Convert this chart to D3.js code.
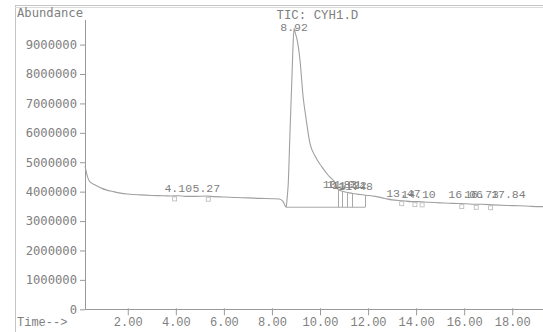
<!DOCTYPE html>
<html>
<head>
<meta charset="utf-8">
<script src="https://cdn.jsdelivr.net/npm/d3@7"></script>
<style>
  html, body { margin: 0; padding: 0; background: #fff; }
  svg { display: block; }
</style>
</head>
<body>
<svg id="chart" width="543" height="332"></svg>
<script>
// ---- data ----
const times = [0.22,0.26,0.30,0.35,0.40,0.50,0.60,0.75,0.90,1.10,1.40,1.70,2.00,2.50,3.00,3.50,3.80,4.10,4.40,4.80,5.27,5.60,6.00,6.50,7.00,7.50,8.00,8.30,8.45,8.52,8.59,8.63,8.68,8.75,8.82,8.87,8.92,8.97,9.05,9.17,9.30,9.40,9.58,9.80,10.07,10.35,10.62,10.75,10.90,11.10,11.30,11.50,11.90,12.30,12.70,13.00,13.47,13.80,14.10,14.50,15.00,15.50,16.06,16.40,16.73,17.20,17.84,18.30,18.80,19.28];
const abundance = [4870000,4720000,4580000,4450000,4360000,4290000,4240000,4180000,4120000,4060000,4000000,3950000,3920000,3890000,3870000,3860000,3850000,3860000,3840000,3840000,3850000,3830000,3820000,3800000,3790000,3770000,3760000,3750000,3680000,3570000,3470000,3750000,4300000,6000000,7600000,8800000,9550000,9400000,9150000,8450000,7200000,6600000,5650000,5200000,4850000,4550000,4300000,4080000,4020000,3980000,3950000,3920000,3880000,3840000,3770000,3720000,3690000,3660000,3660000,3640000,3620000,3600000,3590000,3570000,3570000,3550000,3530000,3520000,3500000,3490000];

const peakTimes = [4.10, 5.27, 8.92, 10.83, 11.01, 11.22, 11.48, 13.47, 14.10, 16.06, 16.73, 17.84];
const peakHeights = [3860000, 3850000, 9550000, 4000000, 3980000, 3960000, 3920000, 3690000, 3660000, 3590000, 3570000, 3530000];

const integStart = 8.59, integEnd = 11.88, integLevel = 3470000;
const dropTimes = [10.74, 10.91, 11.12, 11.32, 11.88];
const markerTimes = [3.95, 5.35, 13.40, 13.95, 14.25, 15.90, 16.50, 17.10];

const yTicks = [0,1000000,2000000,3000000,4000000,5000000,6000000,7000000,8000000,9000000];
const xTicks = [2,4,6,8,10,12,14,16,18];

const title = "TIC: CYH1.D";
const yTitle = "Abundance";
const xTitle = "Time-->";

// ---- drawing ----
const svg = d3.select("#chart");
const grey = "#9a9a9a";
const txt = "#808080";

const x = d3.scaleLinear().domain([0.22, 19.28]).range([85, 543]);
const y = d3.scaleLinear().domain([0, 9000000]).range([309.3, 44.6]);

// frame
svg.append("line").attr("x1",15.5).attr("x2",15.5).attr("y1",5).attr("y2",332).attr("stroke","#c4c4c4");
svg.append("line").attr("x1",15).attr("x2",543).attr("y1",5.5).attr("y2",5.5).attr("stroke","#c4c4c4");
svg.append("line").attr("x1",15).attr("x2",543).attr("y1",7.5).attr("y2",7.5).attr("stroke","#dcdcdc");

// y axis
const yAxis = svg.append("g").attr("transform","translate(85,0)")
  .call(d3.axisLeft(y).tickValues(yTicks).tickFormat(d3.format("d")).tickSizeInner(5).tickSizeOuter(0).tickPadding(3));
yAxis.select(".domain").remove();
yAxis.selectAll(".tick line").attr("stroke", grey);
yAxis.selectAll(".tick text").attr("fill", txt)
  .style("font-family","'DejaVu Sans Mono', monospace").style("font-size","12.2px");
svg.append("line").attr("x1",85.5).attr("x2",85.5).attr("y1",20).attr("y2",309.3).attr("stroke",grey);

// x axis
const xAxis = svg.append("g").attr("transform","translate(0,309.3)")
  .call(d3.axisBottom(x).tickValues(xTicks).tickFormat(d3.format(".2f")).tickSizeInner(6).tickSizeOuter(0));
xAxis.select(".domain").remove();
xAxis.selectAll(".tick line").attr("stroke", grey).attr("y1",-1);
xAxis.selectAll(".tick text").attr("fill", txt).attr("y",17).attr("dy","0")
  .style("font-family","'Liberation Mono', monospace").style("font-size","12px");
svg.append("line").attr("x1",85).attr("x2",543).attr("y1",309.5).attr("y2",309.5).attr("stroke",grey);

// titles
svg.append("text").attr("x",17).attr("y",17).text(yTitle).attr("fill",txt)
  .style("font-family","'DejaVu Sans Mono', monospace").style("font-size","12.2px");
svg.append("text").attr("x",17).attr("y",326).text(xTitle).attr("fill",txt)
  .style("font-family","'Liberation Mono', monospace").style("font-size","12px");
svg.append("text").attr("x",276.5).attr("y",19).text(title).attr("fill",txt)
  .style("font-family","'Liberation Mono', monospace").style("font-size","12.4px");

// curve
const pts = times.map((t,i) => [t, abundance[i]]);
const line = d3.line().x(d => x(d[0])).y(d => y(d[1])).curve(d3.curveMonotoneX);
svg.append("path").datum(pts).attr("d", line).attr("fill","none").attr("stroke","#a0a0a0").attr("stroke-width",1.1);

// interpolation helper from data
function valueAt(t) {
  const i = d3.bisector(d => d[0]).left(pts, t);
  if (i <= 0) return pts[0][1];
  if (i >= pts.length) return pts[pts.length-1][1];
  const a = pts[i-1], b = pts[i];
  return a[1] + (b[1]-a[1]) * (t - a[0]) / (b[0]-a[0]);
}

// integration baseline + drop lines
svg.append("line").attr("x1",x(integStart)).attr("x2",x(integEnd))
  .attr("y1",y(integLevel)).attr("y2",y(integLevel)).attr("stroke","#a8a8a8");
svg.selectAll(".drop").data(dropTimes).join("line")
  .attr("x1", d => Math.round(x(d))+0.5).attr("x2", d => Math.round(x(d))+0.5)
  .attr("y1", y(integLevel)).attr("y2", d => y(valueAt(d)))
  .attr("stroke","#a8a8a8");

// small peak markers
svg.selectAll(".mk").data(markerTimes).join("rect")
  .attr("x", d => x(d)-2).attr("y", d => y(valueAt(d))+1)
  .attr("width",4).attr("height",4)
  .attr("fill","none").attr("stroke","#b8b8b8").attr("stroke-width",0.8);

// peak labels
svg.selectAll(".pl").data(peakTimes).join("text")
  .attr("x", d => x(d))
  .attr("y", (d,i) => Math.min(Math.max(y(peakHeights[i]) - 4, 31), 198))
  .attr("text-anchor","middle")
  .attr("fill", txt)
  .style("font-family","'Liberation Mono', monospace").style("font-size","11.5px")
  .text(d => d.toFixed(2));
</script>
</body>
</html>
